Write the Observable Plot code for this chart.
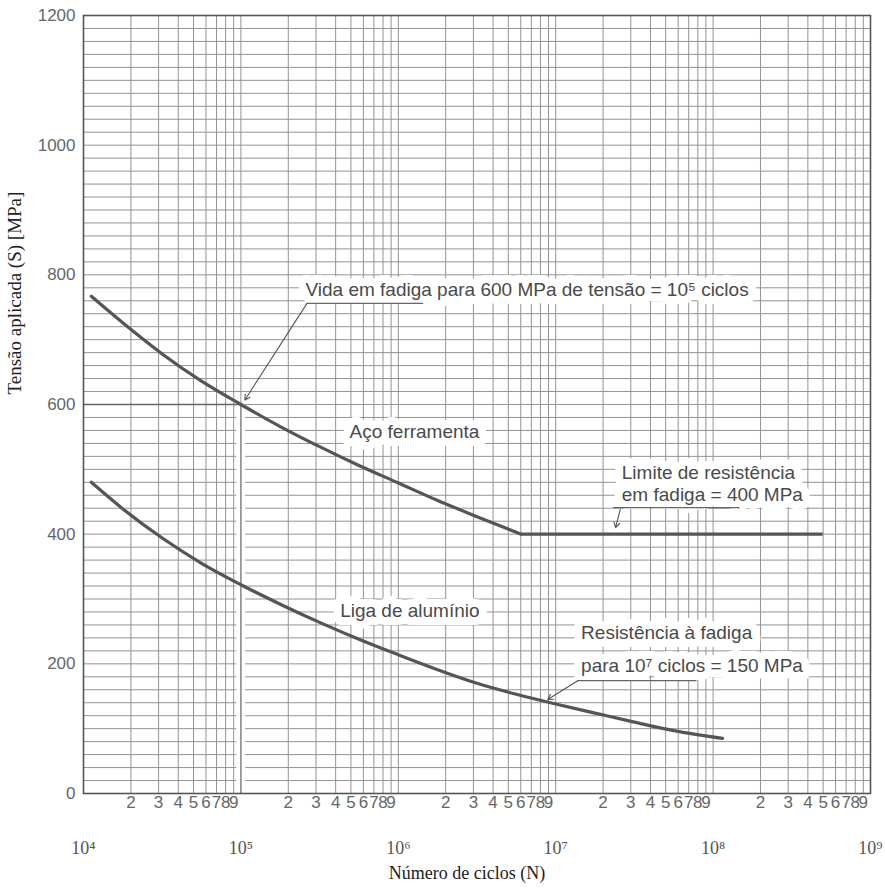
<!DOCTYPE html>
<html>
<head>
<meta charset="utf-8">
<script src="https://cdn.jsdelivr.net/npm/d3@7"></script>
<script src="https://cdn.jsdelivr.net/npm/@observablehq/plot@0.6"></script>
<style>
  body { margin: 0; background: #fff; }
  #chart { width: 885px; height: 890px; }
</style>
</head>
<body>
<div id="chart"></div>
<script>
// ---- Data ----
const decades = [1e4, 1e5, 1e6, 1e7, 1e8, 1e9];
const decadeLabels = ["10⁴", "10⁵", "10⁶", "10⁷", "10⁸", "10⁹"];
const minorDigits = [2, 3, 4, 5, 6, 7, 8, 9];
const yTicks = [0, 200, 400, 600, 800, 1000, 1200];
const yGridStep = 20;

// Tool steel (Aço ferramenta)
const steelN = [1.12e4, 1.995e4, 3.162e4, 5.623e4, 1e5, 1.778e5, 3.162e5, 5.623e5, 1e6, 1.778e6, 3.162e6, 6.03e6];
const steelS = [767, 716, 678, 636, 600, 566, 535, 506, 479, 452, 427, 400];
const steelLimitN = [6.03e6, 5.0e8];
const steelLimitS = 400;

// Aluminium alloy (Liga de alumínio)
const alN = [1.12e4, 1.778e4, 3.162e4, 5.623e4, 1e5, 1.778e5, 3.162e5, 5.623e5, 1e6, 1.778e6, 3.162e6, 5.623e6, 1e7, 1.778e7, 3.162e7, 5.623e7, 1.148e8];
const alS = [480, 439, 394, 355, 322, 292, 264, 238, 214, 191, 170, 153, 138, 124, 110, 97, 85];

// Annotations
const noteText = [
  "Vida em fadiga para 600 MPa de tensão = 10⁵ ciclos",
  "Aço ferramenta",
  "Limite de resistência",
  "em fadiga = 400 MPa",
  "Liga de alumínio",
  "Resistência à fadiga",
  "para 10⁷ ciclos = 150 MPa"
];
const noteN = [2.57e5, 4.9e5, 2.63e7, 2.63e7, 4.27e5, 1.45e7, 1.45e7];
const noteS = [776, 557, 495, 460, 282, 247, 197];

const underlineS = [756, 441, 174];
const underlineN1 = [2.63e5, 2.34e7, 1.38e7];
const underlineN2 = [1.45e6, 1.48e8, 7.9e7];

const leaderN1 = [2.63e5, 2.57e7, 1.38e7];
const leaderS1 = [756, 438, 174];
const leaderN2 = [1.06e5, 2.4e7, 8.9e6];
const leaderS2 = [607, 410, 145];

// Drop line at 10^5 cycles for 600 MPa
const dropN = 1e5, dropS = 600;
const dropBand = [{x1: 9.4e4, x2: 1.07e5, y1: 0, y2: 600}];

const xLabel = "Número de ciclos (N)";
const yLabel = "Tensão aplicada (S) [MPa]";

// ---- Derived tables ----
const minorTicks = decades.slice(0, 5).flatMap(d => minorDigits.map(k => ({v: k * d, k})));
const vGrid = decades.concat(minorTicks.map(d => d.v));
const hGrid = d3.range(0, 1200 + yGridStep, yGridStep);
const steel = steelN.map((n, i) => ({N: n, S: steelS[i]}));
const alum = alN.map((n, i) => ({N: n, S: alS[i]}));
const notes = noteText.map((t, i) => ({t, N: noteN[i], S: noteS[i]}));
const underlines = underlineS.map((s, i) => ({S: s, N1: underlineN1[i], N2: underlineN2[i]}));
const leaders = leaderN1.map((n, i) => ({N1: n, S1: leaderS1[i], N2: leaderN2[i], S2: leaderS2[i]}));
const decadeTable = decades.map((d, i) => ({v: d, t: decadeLabels[i]}));

const sans = "Liberation Sans, Arial, Helvetica, sans-serif";
const serif = "Liberation Serif, Times New Roman, serif";
const gridColor = "#939393";
const inkColor = "#555";

const chart = Plot.plot({
  width: 885,
  height: 890,
  marginLeft: 83,
  marginRight: 15,
  marginTop: 15,
  marginBottom: 97,
  style: {fontFamily: sans, fontSize: "16px", color: "#555", background: "#fff"},
  x: {type: "log", domain: [1e4, 1e9], axis: null},
  y: {domain: [0, 1200], axis: null},
  marks: [
    // grid
    Plot.ruleY(hGrid, {stroke: gridColor, strokeWidth: 1}),
    Plot.ruleX(vGrid, {stroke: gridColor, strokeWidth: 1}),
    // drop band at 1e5
    Plot.rect(dropBand, {x1: "x1", x2: "x2", y1: "y1", y2: "y2", fill: "#fff"}),
    Plot.ruleX([dropN], {y1: 0, y2: dropS, stroke: "#666", strokeWidth: 1.2}),
    Plot.ruleY([dropS], {x1: 1e4, x2: dropN, stroke: "#666", strokeWidth: 1.5}),
    Plot.frame({stroke: "#555", strokeWidth: 1.6}),
    // curves
    Plot.line(steel, {x: "N", y: "S", curve: "monotone-x", stroke: inkColor, strokeWidth: 3.2}),
    Plot.ruleY([steelLimitS], {x1: steelLimitN[0], x2: steelLimitN[1], stroke: inkColor, strokeWidth: 3.2}),
    Plot.line(alum, {x: "N", y: "S", curve: "monotone-x", stroke: inkColor, strokeWidth: 3.2}),
    // annotations
    Plot.text(notes, {x: "N", y: "S", text: "t", textAnchor: "start", fontSize: 19, fill: "#4a4a4a",
      stroke: "#fff", strokeWidth: 16, strokeLinejoin: "round", fontFamily: sans}),
    Plot.ruleY(underlines, {y: "S", x1: "N1", x2: "N2", stroke: "#666", strokeWidth: 1.3}),
    Plot.arrow(leaders, {x1: "N1", y1: "S1", x2: "N2", y2: "S2", stroke: "#555", strokeWidth: 1.1, headLength: 8}),
    // y axis
    Plot.text(yTicks, {y: d => d, frameAnchor: "left", dx: -8, textAnchor: "end", text: d => String(d),
      fontSize: 17, fill: "#666", fontFamily: sans}),
    // x axis minor labels
    Plot.text(minorTicks, {x: "v", frameAnchor: "bottom", dy: 14, text: d => String(d.k),
      fontSize: 17, fill: "#666", fontFamily: sans}),
    // x axis decade labels
    Plot.text(decadeTable, {x: "v", frameAnchor: "bottom", dy: 60, text: "t",
      fontSize: 18, fill: "#555", fontFamily: serif}),
    Plot.text([xLabel], {frameAnchor: "bottom", dy: 85, dx: -10, fontFamily: serif, fontSize: 18, fill: "#222"}),
    Plot.text([yLabel], {frameAnchor: "left", dx: -69, dy: -10, rotate: -90, fontFamily: serif, fontSize: 19, fill: "#222"})
  ]
});
document.getElementById("chart").appendChild(chart);
</script>
</body>
</html>
